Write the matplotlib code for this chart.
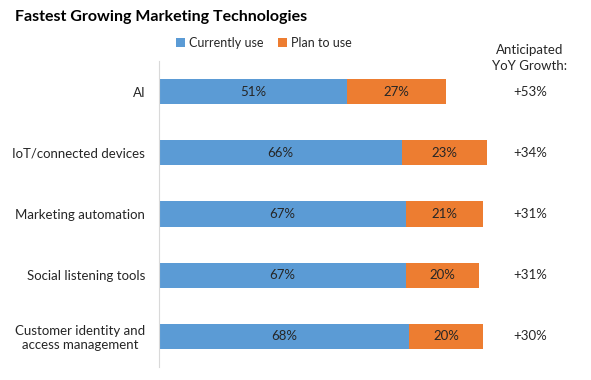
import matplotlib.pyplot as plt
import matplotlib.transforms as mtransforms

plt.rcParams["font.family"] = ["Lato", "DejaVu Sans"]

categories = ["AI", "IoT/connected devices", "Marketing automation",
              "Social listening tools", "Customer identity and\naccess management"]
currently_use = [51, 66, 67, 67, 68]
plan_to_use = [27, 23, 21, 20, 20]
yoy_growth = ["+53%", "+34%", "+31%", "+31%", "+30%"]

BLUE = "#5B9BD5"
ORANGE = "#ED7D31"
TEXT = "#262626"

fig = plt.figure(figsize=(5.91, 3.80), dpi=100)
ax = fig.add_axes([159 / 591, 13 / 380, 368 / 591, 306 / 380])

y = list(range(len(categories)))
ax.barh(y, currently_use, height=0.41, color=BLUE, label="Currently use")
ax.barh(y, plan_to_use, left=currently_use, height=0.41, color=ORANGE, label="Plan to use")

for i, (c, p) in enumerate(zip(currently_use, plan_to_use)):
    ax.text(c / 2, i, f"{c}%", ha="center", va="center", fontsize=9.5, color=TEXT)
    ax.text(c + p / 2, i, f"{p}%", ha="center", va="center", fontsize=9.5, color=TEXT)

ax.set_xlim(0, 100)
ax.set_ylim(len(categories) - 0.5, -0.5)
ax.set_yticks(y)
ax.set_yticklabels(categories, fontsize=9.5, color=TEXT, multialignment="center",
                   linespacing=1.15)
ax.tick_params(axis="y", length=0, pad=10)
ax.set_xticks([])
for side in ["top", "right", "bottom"]:
    ax.spines[side].set_visible(False)
ax.spines["left"].set_color("#D9D9D9")

# growth column on the right
trans = mtransforms.blended_transform_factory(fig.transFigure, ax.transData)
for i, g in enumerate(yoy_growth):
    ax.text(530 / 591, i, g, transform=trans, ha="center", va="center", fontsize=9.5, color=TEXT)
fig.text(530 / 591, 1 - 58 / 380, "Anticipated\nYoY Growth:", ha="center", va="center",
         fontsize=9.5, color=TEXT, linespacing=1.3)

fig.text(15 / 591, 1 - 17 / 380, "Fastest Growing Marketing Technologies",
         ha="left", va="center", fontsize=11.5, fontweight="bold", color="black")

ax.legend(loc="center", bbox_to_anchor=(264 / 591, 1 - 43 / 380), bbox_transform=fig.transFigure,
          ncol=2, frameon=False, fontsize=9, handlelength=0.7, handleheight=0.7,
          handletextpad=0.3, columnspacing=1.2, labelcolor=TEXT)

fig.savefig("out.png", dpi=100)
